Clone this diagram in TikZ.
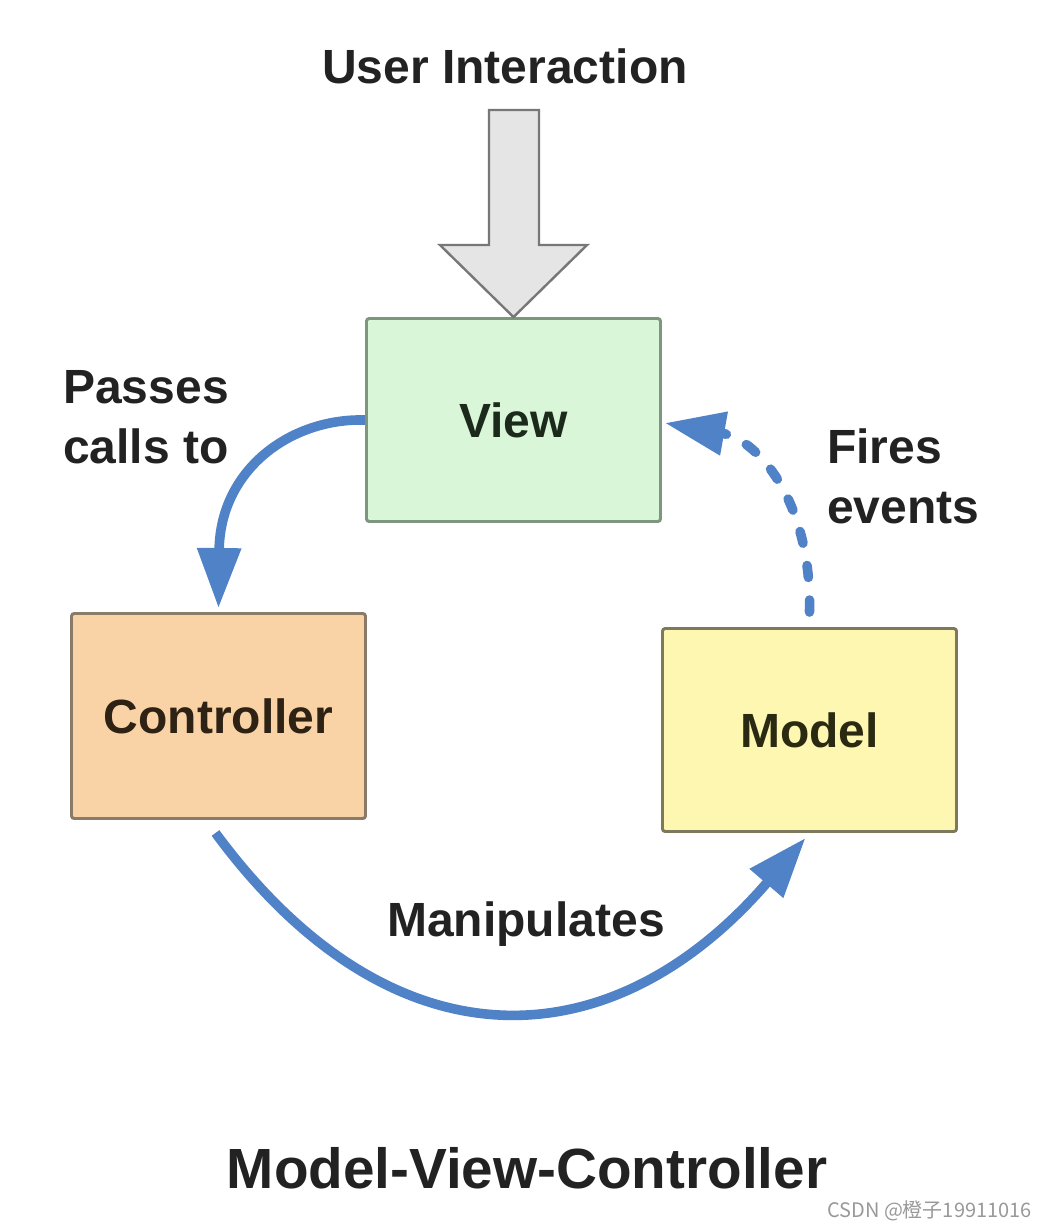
\documentclass[tikz,border=0pt]{standalone}
\usepackage{fontspec}
\setmainfont{Liberation Sans}
\newfontfamily\cjkfont{Noto Sans CJK SC}
\usetikzlibrary{arrows.meta,calc}
\definecolor{viewfill}{HTML}{D9F6D9}
\definecolor{viewdraw}{HTML}{7E967E}
\definecolor{viewtext}{HTML}{1C2A1C}
\definecolor{ctrlfill}{HTML}{F9D2A6}
\definecolor{ctrldraw}{HTML}{8A7A68}
\definecolor{ctrltext}{HTML}{2E2214}
\definecolor{modelfill}{HTML}{FDF7B1}
\definecolor{modeldraw}{HTML}{7D7A5C}
\definecolor{modeltext}{HTML}{2A2A12}
\definecolor{grayfill}{HTML}{E5E5E5}
\definecolor{graydraw}{HTML}{777777}
\definecolor{mvcblue}{HTML}{5082C8}
\definecolor{labeltext}{HTML}{222222}
\definecolor{wmgray}{HTML}{999999}
\begin{document}
\begin{tikzpicture}[x=0.75pt,y=-0.75pt,
  box/.style={draw, line width=2.2pt, rounded corners=2pt, inner sep=0pt,
    minimum width=220.5pt, font=\fontsize{36}{43}\selectfont\bfseries},
  lbl/.style={inner sep=0pt, text=labeltext, font=\fontsize{36}{45}\selectfont\bfseries},
  bluearrow/.style={draw=mvcblue, line width=7.2pt,
    -{Triangle[length=45pt,width=31.5pt]}},
  dashline/.style={line cap=round, dash pattern=on 9pt off 17pt},
  grayarrow/.style={draw=graydraw, fill=grayfill, line width=1.8pt, line join=miter}
]
\useasboundingbox (0,0) rectangle (1049,1229);
\fill[white] (0,0) rectangle (1049,1229);

% boxes
\node[box, fill=viewfill, draw=viewdraw, text=viewtext, minimum height=152.25pt] (View) at (513.5,420) {View};
\node[box, fill=ctrlfill, draw=ctrldraw, text=ctrltext, minimum height=153.75pt] (Controller) at (218.5,716) {Controller};
\node[box, fill=modelfill, draw=modeldraw, text=modeltext, minimum height=152.25pt] (Model) at (809.5,730) {Model};

% user interaction arrow
\begin{scope}[shift={(View.north)}]
\draw[grayarrow] (-24.5,-207) -- (25.5,-207) -- (25.5,-72) -- (73.5,-72) -- (0,0) -- (-73.5,-72) -- (-24.5,-72) -- cycle;
\end{scope}

% connectors
\draw[bluearrow] (View.west) .. controls (290,418) and (220,470) .. ($(Controller.north)+(0,-4)$);
\draw[bluearrow] ($(Controller.south)+(-3,13)$) .. controls (390,1070) and (610,1065) .. ($(Model.south)+(-4,5)$);
\draw[bluearrow, dashline] ($(Model.north)+(0,-15)$) .. controls (812,505) and (760,440) .. ($(View.east)+(3,3)$);

% labels
\node[lbl, anchor=base west, align=left] (passes) at (63,463) {Passes\\calls to};
\node[lbl, anchor=base west, align=left] (fires) at (827,523) {Fires\\events};
\node[lbl, anchor=base] (ui) at (505,83) {User Interaction};
\node[lbl, anchor=base] (manip) at (526,936) {Manipulates};
\node[lbl, anchor=base, font=\fontsize{42.5}{50}\selectfont\bfseries] (title) at (527,1188) {Model-View-Controller};
\node[anchor=base east, inner sep=0pt, text=wmgray, font=\cjkfont\fontsize{15}{18}\selectfont] (wm) at (1032,1217) {CSDN @橙子19911016};
\end{tikzpicture}
\end{document}
